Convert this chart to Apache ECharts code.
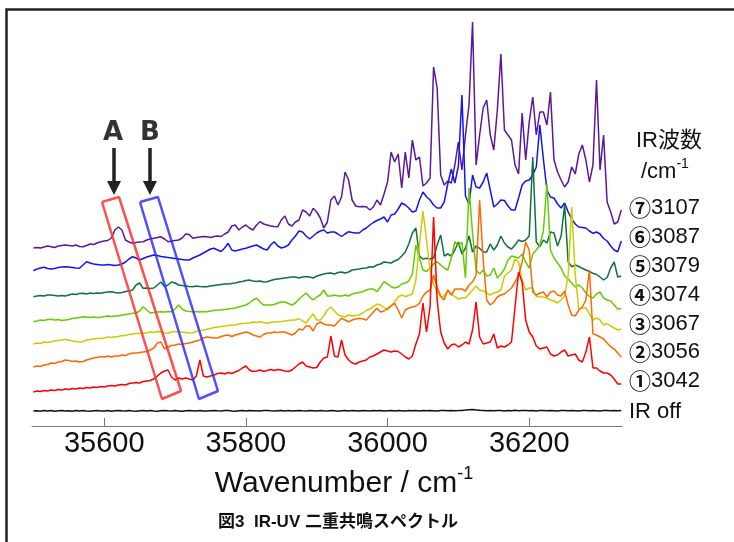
<!DOCTYPE html>
<html>
<head>
<meta charset="utf-8">
<title>IR-UV</title>
<script src="https://cdn.jsdelivr.net/npm/echarts@6.0.0/dist/echarts.min.js"></script>
<style>
html, body { margin: 0; padding: 0; background: #fff; }
#main { width: 734px; height: 542px; }
</style>
</head>
<body>
<div id="main"></div>
<script type="text/javascript">
var waveStart = 35500, waveStep = 5;
var tickValues = [35600, 35800, 36000, 36200];

var specOff = [0,0.3,-0.2,0.4,0,0.5,-0.3,0.2,0.6,0, 0.3,-0.2,0.4,0.1,0.5,0,-0.3,0.3,0.5,0.1, 0,0.4,-0.2,0.3,0.6,0.2,0,0.5,0.1,-0.2, 0.3,0.6,0.1,0.4,0,-0.2,0.3,0.5,0.2,0, 0.4,0.1,-0.3,0.2,0.5,0.3,0,0.4,0.1,-0.1, 0.3,0.5,0.2,0,0.4,0.6,0.1,-0.2,0.3,0.4, 0,0.5,0.2,0.3,-0.1,0.4,0.6,0.2,0,0.3, 0.5,0.1,0.4,0,0.3,0.6,0.2,-0.1,0.4,0.3, 0.1,0.5,0.2,0,0.4,0.3,-0.2,0.3,0.5,0.1, 0.4,0.2,0,0.5,0.3,0.1,0.6,0.2,0.4,0, 0.3,0.5,0.1,0.4,0.2,0,0.5,0.3,0.6,0.1, 0.4,0.2,0.5,0.3,0.1,0.6,0.4,0.2,0.5,0.3, 0.4,0.6,0.9,1.3,1.5,1.1,0.7,0.5,0.3,0.5, 0.2,0.6,0.4,0.1,0.5,0.3,0.7,0.2,0.4,0.6, 0.3,0.5,0.1,0.4,0.6,0.2,0.5,0.3,0,0.4, 0.6,0.2,0.5,0.3,0.1,0.4,0.6,0.2,0.5,0.3, 0.1,0.4,0.6,0.2,0.5,0.3,0.4];
var spec3042 = [0,1,0.5,1.5,1,2,1.5,2.5,2,3, 2.5,3.5,3,4,3.5,4.5,4,5,4.5,5.5, 5,6,6.5,6,7,7.5,7,8.5,9,9.5, 9,10.5,11,11.5,13,16,19,21,22,15, 12,14,13,14,13,12,16,32,16,15, 16,17,18.5,19,18,19.5,18.5,20,21.5,24, 26,22,20.5,21,22,20.5,21.5,22.5,21.5,22.5, 22,21,20.5,22,25,28,30,26,25,24, 24.5,30,34,35,56,36,35,52,37,32, 29,28,30,31,32,35,36,38,40,42, 41,40,41,40.5,38,35,33,36,48,58, 89,60,85,175,92,60,49,43,47,48, 45,47,50,48,62,90,55,48,49,50, 58,44,46,45,47,50,85,120,110,72, 60,55,46,43,44,45,38,36,37,40, 42,36,37,38,32,30,40,55,24,24, 21,19,19,17,13,8,8];
var spec3056 = [0,1,0.5,2,2.5,4,3.5,5,5.5,7, 6.5,5.5,6,5,5.5,7,8,9,9.5,10.5, 10,11,10,11,11,12,11.5,13,14,14, 14.5,15,15.5,17,19,24,25,18,20,21.5, 22,23,22.5,23.5,24,25,26,27,29,30, 29.5,29,29,30.5,31.5,32,30.5,32,33,34, 35,34,32,31,30,32.5,34,34,35,34.5, 35,35,33.5,32,34,38,37,41,41,36, 43,45,43,42,42,41,45,48.7,47,45.3, 47,48,48.7,48,47,51,55,58.7,55,56, 58.7,61,63.7,57,49,57,59,60,61,63.7, 71,75,77,92,80,71,67,77,72,78, 78,78,76,82,85,92,167,107,67,62, 65,70,72,73,76,79,85,92,105,125, 117,75,72,73.7,75,70.3,75,76,72,71, 76,62,52,51,57,60,67,97,33,32, 30,28,24,20.3,18,14,10];
var spec3067 = [0,1,0.5,2,1.5,2.3,3,3.5,4,4.7, 4,3,2.5,2,2.3,4,4.5,5,5.5,5.7, 6,7,6.5,7.3,7.5,8.5,8.5,9.5,10,10.5, 10.5,11,11.3,12,11.5,12.5,12.3,11,10.7,12, 12.5,12.3,12,11.5,11,11.3,12.5,13.5,14,14.7, 15.5,16.5,17,17.5,18,18.5,19,19,20,20.5, 20.7,21,22,21.5,22.3,21.5,20.7,21.5,22,22.3, 22.5,23,23.5,24,24,25.5,23,21,26,30, 24,24,28,34,37,33,29,28,27,29, 28,28.5,29,31,33.5,35,37.3,40,39,36.5, 34,38,42,47,49,47.5,48.5,50,64,99, 133,104,74,60,52,47,48,54,50,47.3, 45,46,46,50,54,58,54,53,51,49, 51,52,54,68,71,74,85,82,64,54, 56,56,47.3,47.3,47,46,44,43,41,44, 48,69,137,69,35,36,36,30,24,26, 24,19,20.5,18,16,14,15];
var spec3074 = [0.3,1,2,1.5,2.5,2.7,2,2.5,1.5,2, 2.5,3.5,4,4.5,5.3,5,4.5,5,4.5,4.7, 5.5,6,5.5,6,6,7,7.5,8,8.7,9, 11,15.3,12,9,9.5,10,10.3,10,10.5,10.3, 13,17,13,11,10.5,10.3,10.5,10,10.5,10.3, 11,11.5,12,12,12.5,13,13.5,14,15,16, 17,19,22,23.7,20,17,17,17,17.5,19, 20,20,18.5,17,19,23,26,29,25,22, 25,27,32,26,26,27,26,26,27,26, 28,28.7,29.5,30.3,32,33,33,30.3,35,40.3, 38,35.3,34,35,38,39,41,48,77,64, 52,50.5,54,58,60.3,57,54,52,64,80.3, 76,80,44,134,89,52,48,52,46,47, 54,44,48,53,62,66,65,64,68,60, 54,68,72,77,91,138,72,64,59,54, 46,43,39,35,37,34,29,25.5,24,28, 30,24,22,21,17,13,13.5];
var spec3079 = [0.3,1,1.5,1,2,2,1.5,1,1.5,1, 2,3,2.5,3.5,3.7,3,4,3.5,4,3.7, 4.5,5,5.3,4.5,4,4.5,5.5,6,7,12, 14,8.7,9,8.5,9,12,15,10.5,12,15, 14,12,11.5,11,10.5,10.3,11,10.5,10.3,10.3, 11,11.5,12,12.5,13,13,13.5,14,15,15.5, 16.5,17,16,15.5,16,15,15.3,16.5,17.5,18, 18.5,19,19.5,20,20,19,20,20.5,20,19, 21,22,23,23.7,24,23,24.5,25,24,25, 27,27.5,28,28.7,29,30.3,30,32,33,35, 34.5,34,36,37.5,41,45,53,64,69,41, 38,38.7,38,39,52,62,41,43,41,47, 55,43,49,61,45,51,48.7,45,45,53, 47,52,61,54,50,48,52,57,55.5,57, 61,140,55,50.3,57,54,65,64,51,61, 92,35,30.3,32,30.5,28.7,27,25.5,23.7,22.5, 20,17,19.5,29,35,20,21];
var spec3087 = [0.3,2,3,3.7,2.5,2,2.5,3.5,4,4.3, 4,3.5,3,2.7,6,9.3,8,7,6.5,6, 6,6.5,6,5.5,6,7,9,12,14.3,13, 11,12.5,14,15,16,15.5,14.5,14,13.5,13, 12.5,12,11.5,11,11,13,14.5,16,18,20, 22,22.7,21,19.5,23,27.7,21,20,21,22, 22.7,24,25,26,24,22,21,26,29.3,25, 23,24,26,31,35,40,39,35,32,35, 38,40,41,38,39,39,37,34.5,37,39.3, 38.5,38,38,41,43,46,48.5,50.5,52,54, 49,56,57,62,68,66,63,59,60,71, 79,74.3,71,66,63,63,69,87,102,88, 105,176,75,67,96,84,83,89,98,81, 64,67,71,70.5,65,61,61,73,86,90, 91,96,104,146,112,81,74,73,67,63, 68,59,52,47,44,43.5,43,40,37.7,39, 37,32.5,30,25,21,19.3,30];
var spec3107 = [0,0.5,0,1,2,1.3,0.5,2,2.5,3, 2.5,2,3,1.5,1.3,2.5,4,3.5,5,6.3, 7,7.5,10,18,21,18,8,6,4.7,5.5, 6,6.3,8,9,9.7,10.5,11.3,9,6.3,7, 7.5,8,10,14,13.5,9.7,10.5,11,11.5,11.3, 10.5,11.5,12,11.5,14,16,22,23,18,21, 23,20,18,23,26.3,24,23,22,21.5,21.3, 28,32,24,22,26,28,38,36,32,39.7, 36,30,20,26,48,52,43,51,76,68, 48,42,41.3,41.5,41.3,38,41,48,43,54, 66,96,86,94,60,96,70,108,88,91, 62,65,70,181,160,73,63,67,65,83, 106,78,113,143,226,83,113,140,148,113, 98,138,194,118,113,108,83,74,135,88, 126,151,113,136,136,123,156,88,76,68, 61,66,81,74,94,103,88,66,83,168, 78,113,46,36,24,26,38];

var traceMarks = ['⑦', '⑥', '⑤', '④', '③', '②', '①', ''];
var traceLabels = ['3107', '3087', '3079', '3074', '3067', '3056', '3042', 'IR off'];
var traceValues = [spec3107, spec3087, spec3079, spec3074, spec3067, spec3056, spec3042, specOff];
// vertical offset of each stacked trace
var traceBase = [178, 155, 129, 104, 82, 59, 34, 15];
var traceColors = ['#5a189a', '#1414f0', '#10703e', '#66cc00', '#cccc00', '#ff6a00', '#ff0000', '#111111'];

// marked regions A and B (corners in wavenumber / offset units)
var regionA = [[35596.8, 224], [35620.8, 229], [35708.4, 35], [35681.5, 27], [35596.8, 224]];
var regionB = [[35650.4, 224], [35675.8, 229], [35760.5, 35], [35733.7, 27], [35650.4, 224]];
var arrowA = [[35613.8, 278], [35613.8, 238]];
var arrowB = [[35664.5, 278], [35664.5, 238]];
var markLetters = [{ name: 'A', value: [35612.5, 278] }, { name: 'B', value: [35664.5, 278] }];

function toPoints(values, base) {
    return values.map(function (v, i) { return [waveStart + i * waveStep, base + v]; });
}

var myChart = echarts.init(document.getElementById('main'));

var series = [];
// draw order: purple first ... red, black
traceValues.forEach(function (vals, k) {
    series.push({
        name: traceMarks[k] + traceLabels[k],
        type: 'line',
        data: toPoints(vals, traceBase[k]),
        showSymbol: false,
        symbol: 'none',
        silent: true,
        lineStyle: { color: traceColors[k], width: 1.5 },
        itemStyle: { color: traceColors[k] }
    });
});
series.push({
    type: 'line', data: regionA, showSymbol: false, symbol: 'none', silent: true,
    lineStyle: { color: '#ff3030', width: 2.5, opacity: 0.85 }
});
series.push({
    type: 'line', data: regionB, showSymbol: false, symbol: 'none', silent: true,
    lineStyle: { color: '#3030ff', width: 2.5, opacity: 0.85 }
});
series.push({
    type: 'lines', coordinateSystem: 'cartesian2d', silent: true,
    data: [{ coords: arrowA }, { coords: arrowB }],
    symbol: ['none', 'triangle'], symbolSize: 14,
    lineStyle: { color: '#222', width: 3.5, opacity: 1, curveness: 0 }
});
series.push({
    type: 'scatter', data: markLetters, symbolSize: 1, silent: true,
    itemStyle: { color: 'rgba(255,255,255,0)' },
    label: {
        show: true, position: 'top', distance: 1, formatter: '{b}',
        fontSize: 26, fontWeight: 900, color: '#000',
        fontFamily: 'DejaVu Sans, sans-serif',
        textBorderWidth: 0
    }
});

var graphics = [{
    type: 'rect', silent: true,
    shape: { x: 6.5, y: 9.5, width: 900, height: 900 },
    style: { fill: 'transparent', stroke: '#222', lineWidth: 2.5 }
}];
var labelY = [208, 237, 266, 295, 324, 352, 381, 412];
traceLabels.forEach(function (t, k) {
    graphics.push({
        type: 'text', x: 629, y: labelY[k], silent: true,
        style: {
            text: (traceMarks[k] ? '{c|' + traceMarks[k] + '}' : '') + '{d|' + t + '}',
            fill: '#111', verticalAlign: 'middle', align: 'left',
            rich: {
                c: { fontSize: 22, fontWeight: 'bold', fontFamily: 'Noto Sans CJK JP', lineHeight: 26 },
                d: { fontSize: 22, fontFamily: 'Liberation Sans', lineHeight: 26 }
            }
        }
    });
});
graphics.push({
    type: 'text', x: 636, y: 141, silent: true,
    style: { text: 'IR波数', fill: '#111', font: '22px "Liberation Sans", "Noto Sans CJK JP", sans-serif', verticalAlign: 'middle' }
});
graphics.push({
    type: 'text', x: 641, y: 170, silent: true,
    style: {
        text: '{a|/cm}{s|-1}', fill: '#111', verticalAlign: 'middle',
        rich: {
            a: { fontSize: 22, fontFamily: 'Liberation Sans', lineHeight: 26, verticalAlign: 'bottom' },
            s: { fontSize: 14, fontFamily: 'Liberation Sans', lineHeight: 16, verticalAlign: 'top' }
        }
    }
});
graphics.push({
    type: 'text', x: 338, y: 522, silent: true,
    style: {
        text: '図3  IR-UV 二重共鳴スペクトル', fill: '#111',
        font: 'bold 17px "Liberation Sans", "Noto Sans CJK JP", sans-serif',
        align: 'center', verticalAlign: 'middle'
    }
});

var option = {
    animation: false,
    grid: { left: 32, right: 112, top: 16, bottom: 116, containLabel: false, outerBoundsMode: 'none' },
    xAxis: {
        type: 'value', min: 35498, max: 36331,
        splitLine: { show: false },
        axisLine: { lineStyle: { color: '#777', width: 1 } },
        axisTick: { show: true, inside: true, length: 8, customValues: tickValues, lineStyle: { color: '#777' } },
        axisLabel: {
            customValues: tickValues, fontSize: 29, color: '#111', margin: 3,
            fontFamily: 'Liberation Sans, Arial, sans-serif',
            formatter: function (v) { return String(v); }
        },
        name: '{a|Wavenumber / cm}{s|-1}',
        nameLocation: 'middle', nameGap: 39,
        nameTextStyle: {
            color: '#111',
            padding: [0, 0, 0, 34],
            rich: {
                a: { fontSize: 30, fontFamily: 'Liberation Sans', color: '#111', lineHeight: 34, verticalAlign: 'bottom' },
                s: { fontSize: 18, fontFamily: 'Liberation Sans', color: '#111', lineHeight: 20, verticalAlign: 'top' }
            }
        }
    },
    yAxis: { type: 'value', min: 0, max: 410, show: false },
    graphic: graphics,
    series: series
};
myChart.setOption(option);
</script>
</body>
</html>
